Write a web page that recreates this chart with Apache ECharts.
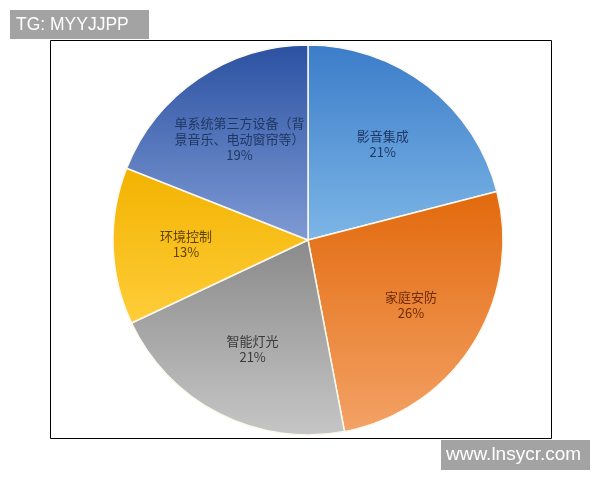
<!DOCTYPE html>
<html>
<head>
<meta charset="utf-8">
<script src="https://cdn.jsdelivr.net/npm/echarts@6/dist/echarts.min.js"></script>
<style>
html,body{margin:0;padding:0;background:#fff;}
#chart{width:600px;height:480px;}
</style>
</head>
<body>
<div id="chart"></div>
<script>
var categories = ['影音集成', '家庭安防', '智能灯光', '环境控制', '单系统第三方设备（背景音乐、电动窗帘等）'];
var values = [21, 26, 21, 13, 19];
var gradTop = ['#3b7cc9', '#e2690c', '#8a8a8a', '#f2b300', '#2b51a1'];
var gradBottom = ['#7db6e6', '#f3a266', '#c6c6c6', '#ffcd3a', '#7f9bd5'];
var labelColors = ['#1f3763', '#6e2c05', '#3a3a3a', '#5e4300', '#1f3763'];

function wrap(s, n) {
  var out = [];
  for (var i = 0; i < s.length; i += n) out.push(s.slice(i, i + n));
  return out.join('\n');
}

var pieData = categories.map(function (c, i) {
  return {
    name: c,
    value: values[i],
    itemStyle: {
      color: new echarts.graphic.LinearGradient(0, 0, 0, 1, [
        { offset: 0, color: gradTop[i] },
        { offset: 1, color: gradBottom[i] }
      ])
    }
  };
});
var labelData = categories.map(function (c, i) {
  return {
    name: c,
    value: values[i],
    label: { color: labelColors[i] }
  };
});

var chart = echarts.init(document.getElementById('chart'));
chart.setOption({
  animation: false,
  backgroundColor: '#fff',
  graphic: [
    { type: 'rect', shape: { x: 50.5, y: 40.5, width: 501, height: 398 },
      style: { fill: 'none', stroke: '#000', lineWidth: 1 }, z: 10 },
    { type: 'rect', shape: { x: 10, y: 10, width: 139, height: 29 },
      style: { fill: '#a3a3a3' }, z: 20 },
    { type: 'text', x: 16, y: 25, z: 21,
      style: { text: 'TG: MYYJJPP', fill: '#fff', font: '17.5px "Liberation Sans", Arial, sans-serif', verticalAlign: 'middle' } },
    { type: 'rect', shape: { x: 441, y: 440, width: 149, height: 30 },
      style: { fill: '#a3a3a3' }, z: 20 },
    { type: 'text', x: 446, y: 455, z: 21,
      style: { text: 'www.lnsycr.com', fill: '#fff', font: '19px "Liberation Sans", Arial, sans-serif', verticalAlign: 'middle' } }
  ],
  series: [
    {
      type: 'pie',
      center: [308, 240],
      radius: [0, 195],
      startAngle: 90,
      clockwise: true,
      label: { show: false },
      labelLine: { show: false },
      itemStyle: { borderColor: '#fdf8ee', borderWidth: 1.5 },
      emphasis: { disabled: true },
      data: pieData
    },
    {
      type: 'pie',
      center: [308, 240],
      radius: [43, 195],
      startAngle: 90,
      clockwise: true,
      silent: true,
      itemStyle: { color: 'rgba(0,0,0,0)' },
      emphasis: { disabled: true },
      label: {
        show: true,
        position: 'inside',
        fontFamily: '"Noto Sans CJK SC", sans-serif',
        fontSize: 13,
        lineHeight: 16,
        align: 'center',
        formatter: function (p) { return wrap(p.name, 10) + '\n' + p.value + '%'; }
      },
      labelLine: { show: false },
      data: labelData
    }
  ]
});
</script>
</body>
</html>
